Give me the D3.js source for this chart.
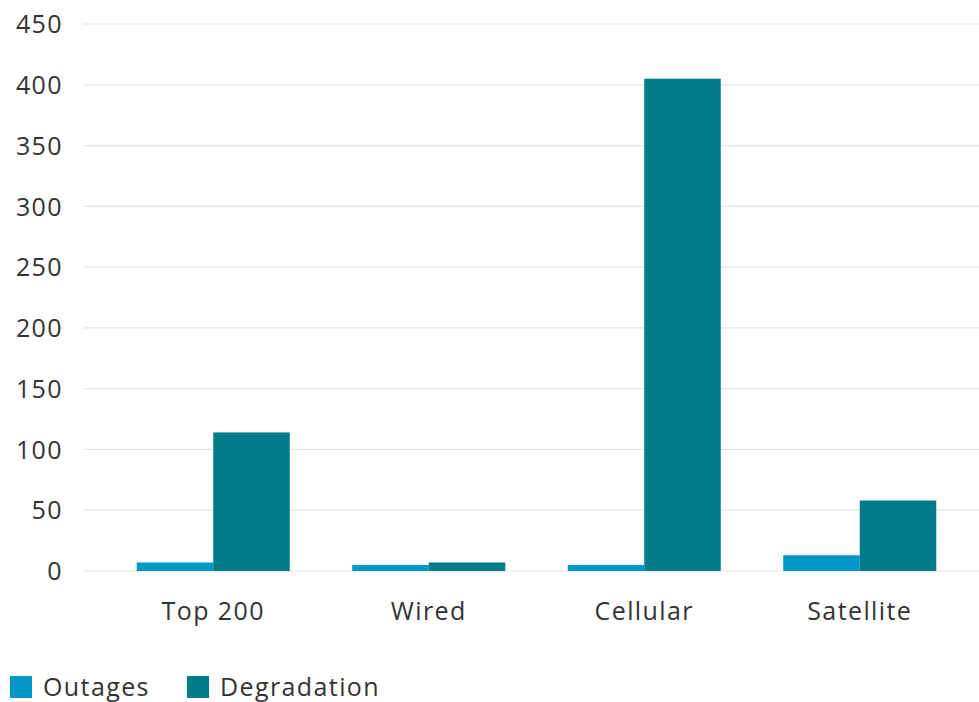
<!DOCTYPE html>
<html>
<head>
<meta charset="utf-8">
<script src="https://cdn.jsdelivr.net/npm/d3@7"></script>
<style>
  html, body { margin: 0; padding: 0; background: #fff; }
  svg text { font-family: "Open Sans", Lato, sans-serif; fill: #333; letter-spacing: 1.4px; }
</style>
</head>
<body>
<svg id="chart" width="979" height="702"></svg>
<script>
// Event counts by network type
const categories = ["Top 200", "Wired", "Cellular", "Satellite"];
const seriesNames = ["Outages", "Degradation"];
const outages = [7, 5, 5, 13];
const degradation = [114, 7, 405, 58];
const yTicks = [0, 50, 100, 150, 200, 250, 300, 350, 400, 450];

const colors = { "Outages": "#0098c9", "Degradation": "#007b89" };

const svg = d3.select("#chart");
const gridLeft = 84, gridRight = 979;
const plotTop = 24, plotBottom = 571;
const fontSize = "25px";

const y = d3.scaleLinear().domain([0, 450]).range([plotBottom, plotTop]);
const x = d3.scaleBand().domain(categories).range([105.5, 967.5])
  .paddingInner(0.29).paddingOuter(0.145);
const xs = d3.scaleBand().domain(seriesNames).range([0, x.bandwidth()]);

// Horizontal gridlines
svg.append("g").selectAll("line").data(yTicks).join("line")
  .attr("x1", gridLeft).attr("x2", gridRight)
  .attr("y1", d => y(d)).attr("y2", d => y(d))
  .attr("stroke", "#e4e4e4").attr("stroke-width", 1.2);

// Y axis labels
const yAxis = d3.axisLeft(y).tickValues(yTicks).tickSize(0).tickPadding(0);
const gy = svg.append("g").attr("transform", "translate(63,0)").call(yAxis);
gy.select(".domain").remove();
gy.selectAll("text").style("font-size", fontSize).style("font-family", null)
  .attr("fill", "#333").attr("dy", "0.35em");

// Bars
const rows = categories.map((c, i) => ({ cat: c, values: [
  { name: "Outages", v: outages[i] },
  { name: "Degradation", v: degradation[i] }
]}));

const groups = svg.append("g").selectAll("g").data(rows).join("g")
  .attr("transform", d => `translate(${x(d.cat)},0)`);
groups.selectAll("rect").data(d => d.values).join("rect")
  .attr("x", d => xs(d.name))
  .attr("width", xs.bandwidth())
  .attr("y", d => y(d.v))
  .attr("height", d => y(0) - y(d.v))
  .attr("fill", d => colors[d.name]);

// Category axis
const xAxis = d3.axisBottom(x).tickSize(0).tickPadding(0);
const gx = svg.append("g").attr("transform", `translate(0,${plotBottom})`).call(xAxis);
gx.select(".domain").remove();
gx.selectAll("text").style("font-size", fontSize).style("font-family", null)
  .attr("fill", "#333").attr("y", 40).attr("dy", "0.35em");

// Legend
const legendX = [10, 187];
const legend = svg.append("g").selectAll("g").data(seriesNames).join("g")
  .attr("transform", (d, i) => `translate(${legendX[i]},676)`);
legend.append("rect").attr("width", 22).attr("height", 22).attr("fill", d => colors[d]);
legend.append("text").attr("x", 33).attr("y", 11).attr("dy", "0.35em")
  .style("font-size", fontSize).text(d => d);
</script>
</body>
</html>
